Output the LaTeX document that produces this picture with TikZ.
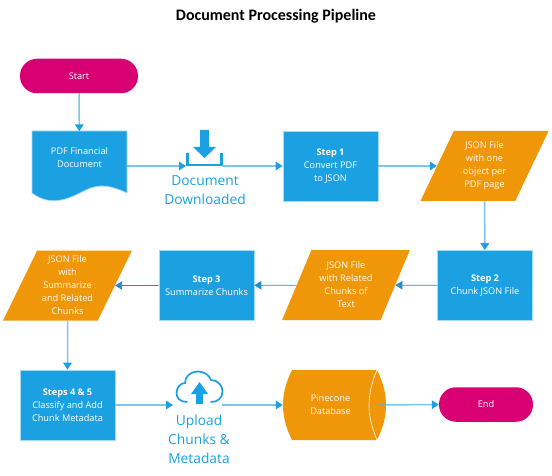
\documentclass[tikz,border=0pt]{standalone}
\usepackage{fontspec}
\setmainfont{Open Sans}
\newfontfamily\titlefont{Carlito}
\usepackage{tikz}
\usetikzlibrary{arrows.meta,shapes.geometric}
\definecolor{stepblue}{HTML}{1BA1E2}
\definecolor{fileorange}{HTML}{F09609}
\definecolor{endmagenta}{HTML}{D80073}
\definecolor{linkblue}{HTML}{7CC6EE}
\definecolor{edgeblue}{HTML}{A6DBF5}
\definecolor{thinblue}{HTML}{1E8FD0}
\definecolor{overlapgrey}{HTML}{86A99A}
\tikzset{
  boxtext/.style={text=white,font=\fontsize{9.2}{13}\selectfont,align=center},
  stepbox/.style={boxtext,rectangle,fill=stepblue,draw=edgeblue,line width=0.7pt,
    minimum width=95pt,minimum height=70pt,inner sep=0pt},
  filebox/.style={boxtext,trapezium,trapezium left angle=64,trapezium right angle=116,
    trapezium stretches=true,fill=fileorange,minimum width=129pt,minimum height=70pt,inner sep=0pt},
  termbox/.style={boxtext,rectangle,rounded corners=17pt,fill=endmagenta,
    minimum height=34.5pt,inner sep=0pt},
  plainbox/.style={boxtext,rectangle,minimum width=95pt,minimum height=70pt,inner sep=0pt},
  icontext/.style={text=stepblue,font=\fontsize{13.8}{19}\selectfont,align=center},
  link/.style={draw=linkblue,line width=1.5pt,-{Triangle[length=7pt,width=8.5pt,color=stepblue]}},
  thinlink/.style={draw=thinblue,line width=0.8pt,-{Triangle[length=7pt,width=8.5pt,color=thinblue]}}
}
\begin{document}
\begin{tikzpicture}[x=1pt,y=-1pt]
      \useasboundingbox (0,0) rectangle (552,476);
      \node (title) at (276,16) {\titlefont\fontsize{16}{18}\selectfont\bfseries Document Processing Pipeline};

      \node[termbox,minimum width=118pt] (start) at (79,76) {Start};

      \fill[stepblue,draw=edgeblue,line width=0.7pt] (32,131) -- (127,131) -- (127,193)
        .. controls (112,186) and (100,183) .. (86,190)
        .. controls (70,198) and (52,208) .. (32,193) -- cycle;
      \node[plainbox] (pdf) at (79.5,166.5) {};
      \node[boxtext] (pdftext) at (79.5,157.5) {PDF Financial\\Document};

      \fill[stepblue] (200,130) -- (209,130) -- (209,147) -- (216,147) -- (204.5,158) -- (193,147) -- (200,147) -- cycle;
      \draw[stepblue,line width=2.2pt] (187.5,153) -- (187.5,165) -- (221.5,165) -- (221.5,153);
      \coordinate (dlin) at (186,166);
      \coordinate (dlout) at (222,166);
      \node[icontext] (dltext) at (205,190) {Document\\Downloaded};

      \node[stepbox] (step1) at (330.5,166) {\textbf{Step 1}\\Convert PDF\\to JSON};
      \node[filebox] (json1) at (484.5,166) {JSON File\\with one\\object per\\PDF page};
      \node[stepbox] (step2) at (485,285.5) {\textbf{Step 2}\\Chunk JSON File};
      \node[filebox] (json2) at (346,285) {JSON File\\with Related\\Chunks of\\Text};
      \node[stepbox] (step3) at (206.5,285.5) {\textbf{Step 3}\\Summarize Chunks};
      \node[filebox] (json3) at (67.5,285.5) {JSON File\\with\\Summarize\\and Related\\Chunks};
      \node[stepbox] (step45) at (67.5,405) {\textbf{Steps 4 \& 5}\\Classify and Add\\Chunk Metadata};

      \draw[stepblue,line width=1.7pt,line cap=round] (187,402)
        .. controls (180,402) and (176.5,398) .. (176.5,393)
        .. controls (176.5,387) and (181,383) .. (185,383)
        .. controls (185,376) and (191,371.5) .. (198,371.5)
        .. controls (204,371.5) and (209,375) .. (211,380)
        .. controls (218,380) and (222.5,386) .. (222.5,391)
        .. controls (222.5,398) and (218,402) .. (211,402);
      \fill[stepblue] (199.5,382) -- (208,394) -- (203,394) -- (203,404) -- (196,404) -- (196,394) -- (191,394) -- cycle;
      \coordinate (upin) at (173,405);
      \coordinate (upout) at (222,405);
      \node[icontext] (uptext) at (199,439) {Upload\\Chunks \&\\Metadata};

      \fill[fileorange] (292,370) -- (377,370)
        .. controls (383,382) and (386,393) .. (386,405)
        .. controls (386,417) and (383,428) .. (377,440)
        -- (292,440)
        .. controls (286,428) and (283,417) .. (283,405)
        .. controls (283,393) and (286,382) .. (292,370) -- cycle;
      \draw[white,line width=0.6pt] (377,370) .. controls (372,382) and (369,393) .. (369,405)
        .. controls (369,417) and (372,428) .. (377,440);
      \node[plainbox] (pinecone) at (330.5,405) {Pinecone\\Database};
      \node[termbox,minimum width=94pt] (finish) at (486,404.5) {End};

      \draw[link] (start) -- (pdf);
      \draw[link] (pdf.east |- dlin) -- (dlin);
      \draw[link] (dlout) -- (step1);
      \draw[link] (step1) -- (json1);
      \draw[link] (json1) -- (step2);
      \draw[thinlink] (step2) -- (json2);
      \draw[thinlink] (json2) -- (step3);
      \draw[thinlink] (step3) -- (json3);
      \draw[link] (json3) -- (step45);
      \draw[link] (step45) -- (upin);
      \draw[link] (upout) -- (pinecone);
      \draw[link] (pinecone) -- (finish);
      \draw[overlapgrey,line width=1.5pt] (pinecone.east) -- (386,405);
     \end{tikzpicture}
\end{document}
